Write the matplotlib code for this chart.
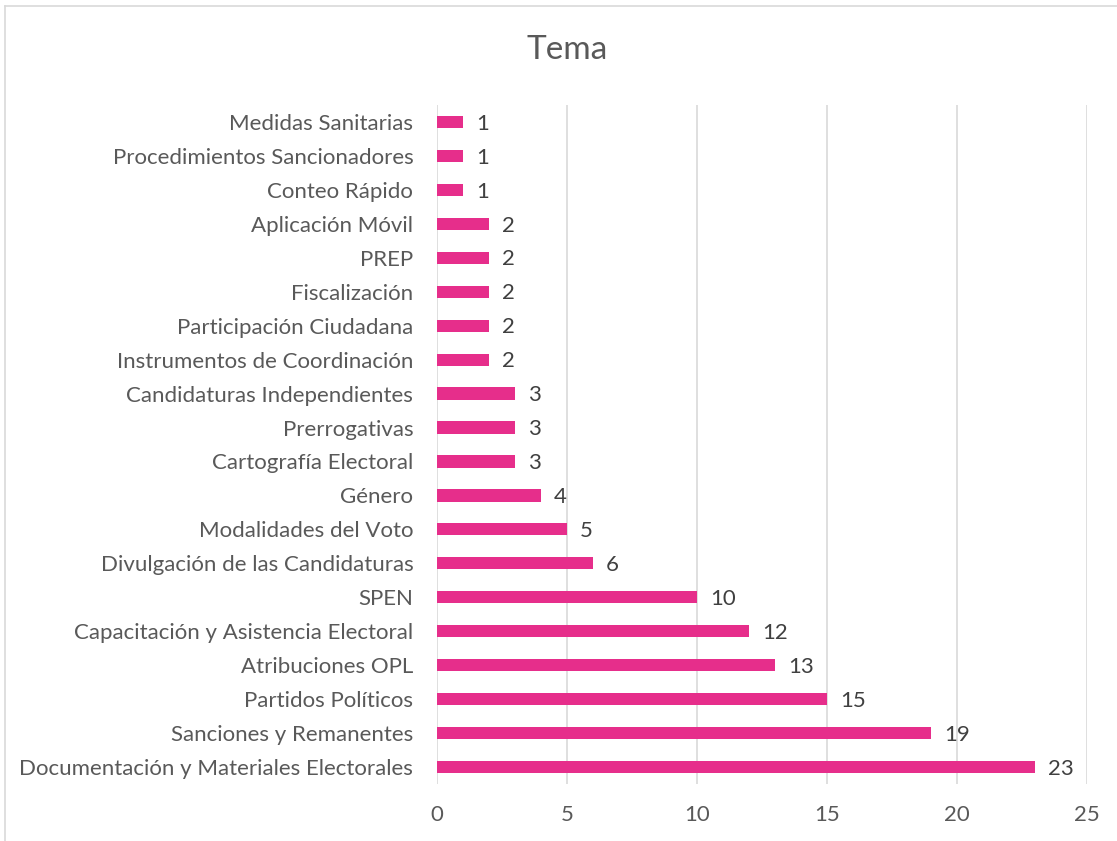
import matplotlib.pyplot as plt
from matplotlib.lines import Line2D

# categorías de abajo hacia arriba
temas = [
    'Documentación y Materiales Electorales',
    'Sanciones y Remanentes',
    'Partidos Políticos',
    'Atribuciones OPL',
    'Capacitación y Asistencia Electoral',
    'SPEN',
    'Divulgación de las Candidaturas',
    'Modalidades del Voto',
    'Género',
    'Cartografía Electoral',
    'Prerrogativas',
    'Candidaturas Independientes',
    'Instrumentos de Coordinación',
    'Participación Ciudadana',
    'Fiscalización',
    'PREP',
    'Aplicación Móvil',
    'Conteo Rápido',
    'Procedimientos Sancionadores',
    'Medidas Sanitarias',
]
valores = [23, 19, 15, 13, 12, 10, 6, 5, 4, 3, 3, 3, 2, 2, 2, 2, 2, 1, 1, 1]
x_ticks = [0, 5, 10, 15, 20, 25]

plt.rcParams['font.family'] = ['Lato', 'DejaVu Sans']
gris = '#595959'
rosa = '#E62E8B'

fig = plt.figure(figsize=(11.17, 8.41), dpi=100)
ax = fig.add_axes([0.3912, 0.0678, 0.5819, 0.8073])

pos = range(len(temas))
ax.barh(pos, valores, height=0.36, color=rosa, zorder=3)
for y, v in zip(pos, valores):
    ax.text(v + 0.5, y - 0.05, str(v), va='center', ha='left', fontsize=16, color='#404040')

ax.set_yticks(list(pos))
ax.set_yticklabels(temas, fontsize=16, color=gris)
ax.set_ylim(-0.5, len(temas) - 0.5)
ax.set_xlim(0, 25)
ax.set_xticks(x_ticks)
ax.set_xticklabels([str(t) for t in x_ticks], fontsize=16, color=gris)
ax.tick_params(axis='both', length=0)
ax.tick_params(axis='x', pad=15)
ax.tick_params(axis='y', pad=17)
ax.grid(axis='x', color='#D9D9D9', linewidth=1.2, zorder=0)
for s in ax.spines.values():
    s.set_visible(False)

fig.text(0.508, 0.94, 'Tema', ha='center', va='center', fontsize=24, color=gris)

# borde del gráfico (solo izquierda y arriba visibles)
fig.lines.append(Line2D([5 / 1117, 5 / 1117], [0, 1 - 6 / 841], transform=fig.transFigure,
                        color='#D9D9D9', linewidth=1.2))
fig.lines.append(Line2D([5 / 1117, 1], [1 - 6 / 841, 1 - 6 / 841], transform=fig.transFigure,
                        color='#D9D9D9', linewidth=1.2))

plt.savefig('out.png', dpi=100)
